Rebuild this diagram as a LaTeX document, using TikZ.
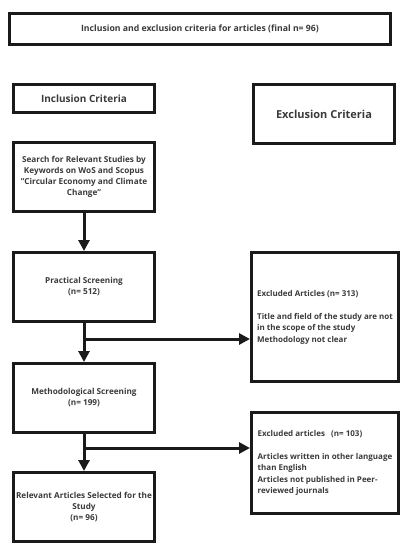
\documentclass[tikz,border=0pt]{standalone}
\usepackage{fontspec}
\setmainfont{Open Sans}
\usepackage{xcolor}
\usetikzlibrary{arrows.meta,calc,positioning}
\definecolor{boxline}{HTML}{1A1A1A}
\definecolor{boxtext}{HTML}{3A3A3A}
\tikzset{%
  arrow/.style={line width=3pt,draw=boxline,-{Triangle[length=11pt,width=11pt]}},
  box/.style={rectangle,draw=boxline,line width=3pt,text=boxtext,align=center,inner sep=3pt,font=\bfseries\fontsize{8.2}{11}\selectfont},
  stagebox/.style={box,minimum width=141pt,minimum height=69pt},
  headbox/.style={box,minimum width=141pt,font=\bfseries\fontsize{10}{12}\selectfont},
  notebox/.style={box,minimum width=147pt,align=left,font=\bfseries\fontsize{8}{11.5}\selectfont},
}

\begin{document}
\begin{tikzpicture}[x=1pt,y=-1pt,node distance=38pt]
      \useasboundingbox (0,0) rectangle (408,550);

      \node[box,minimum width=381pt,minimum height=31pt,font=\bfseries\fontsize{8.7}{10}\selectfont] (title) at (200,29)
        {Inclusion and exclusion criteria for articles (final n= 96)};

      % inclusion column
      \node[headbox,minimum height=28pt] (incl) at (84,98.5) {Inclusion Criteria};
      \node[stagebox,below=27pt of incl] (search)
        {Search for Relevant Studies by\\Keywords on WoS and Scopus\\"Circular Economy and Climate\\Change"};
      \node[stagebox,below=of search] (practical) {Practical Screening\\(n= 512)};
      \node[stagebox,below=39pt of practical] (method) {Methodological Screening\\(n= 199)};
      \node[stagebox,below=37pt of method] (relevant) {Relevant Articles Selected for the\\Study\\(n= 96)};

      % exclusion column
      \node[headbox,minimum height=59pt,font=\bfseries\fontsize{11}{13}\selectfont] (excl) at (324,114) {Exclusion Criteria};
      \node[notebox,minimum height=129pt] (excluded1) at (325,317)
        {Excluded Articles (n= 313)\\[11.5pt]
         Title and field of the study are not\\in the scope of the study\\
         Methodology not clear};
      \node[notebox,minimum height=101pt] (excluded2) at (325,463)
        {Excluded articles\ \ \ (n= 103)\\[11.5pt]
         Articles written in other language\\than English\\
         Articles not published in Peer-\\reviewed journals};

      \coordinate (split1) at (84,339);
      \coordinate (split2) at (84,448);

      \draw[arrow] (search) -- (practical);
      \draw[arrow] (practical) -- (method);
      \draw[arrow] (method) -- (relevant);
      \draw[arrow] (split1) -- (split1 -| excluded1.west);
      \draw[arrow] (split2) -- (split2 -| excluded2.west);
    \end{tikzpicture}
\end{document}
